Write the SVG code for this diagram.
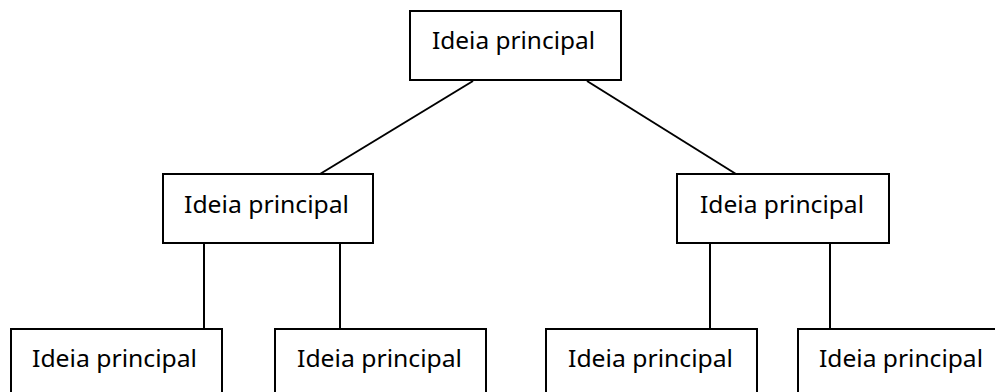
<svg xmlns="http://www.w3.org/2000/svg" width="995" height="392" viewBox="0 0 995 392">
<style>
.box{fill:#fff;stroke:#000;stroke-width:2}
.lbl{font-family:"Noto Sans","Open Sans","Liberation Sans",sans-serif;font-size:23px;fill:#000}
.con{stroke:#000;stroke-width:2;fill:none}
</style>
<rect width="995" height="392" fill="#fff"/>
<g id="connectors">
<line class="con" x1="473" y1="81" x2="320" y2="174"/>
<line class="con" x1="587" y1="81" x2="736" y2="174"/>
<line class="con" x1="204" y1="243" x2="204" y2="329"/>
<line class="con" x1="340" y1="243" x2="340" y2="329"/>
<line class="con" x1="710" y1="243" x2="710" y2="329"/>
<line class="con" x1="830" y1="243" x2="830" y2="329"/>
</g>
<g id="root">
<rect class="box" x="410" y="11" width="211" height="69"/>
<text class="lbl" x="432" y="49" textLength="163" lengthAdjust="spacingAndGlyphs">Ideia principal</text>
</g>
<g id="mid-left">
<rect class="box" x="163" y="174" width="210" height="69"/>
<text class="lbl" x="184" y="213" textLength="165" lengthAdjust="spacingAndGlyphs">Ideia principal</text>
</g>
<g id="mid-right">
<rect class="box" x="677" y="174" width="212" height="69"/>
<text class="lbl" x="700" y="213" textLength="164" lengthAdjust="spacingAndGlyphs">Ideia principal</text>
</g>
<g id="leaf-1">
<rect class="box" x="11" y="329" width="211" height="80"/>
<text class="lbl" x="32" y="367" textLength="165" lengthAdjust="spacingAndGlyphs">Ideia principal</text>
</g>
<g id="leaf-2">
<rect class="box" x="275" y="329" width="211" height="80"/>
<text class="lbl" x="297" y="367" textLength="165" lengthAdjust="spacingAndGlyphs">Ideia principal</text>
</g>
<g id="leaf-3">
<rect class="box" x="546" y="329" width="211" height="80"/>
<text class="lbl" x="568" y="367" textLength="165" lengthAdjust="spacingAndGlyphs">Ideia principal</text>
</g>
<g id="leaf-4">
<rect class="box" x="798" y="329" width="211" height="80"/>
<text class="lbl" x="819" y="367" textLength="164" lengthAdjust="spacingAndGlyphs">Ideia principal</text>
</g>
</svg>
